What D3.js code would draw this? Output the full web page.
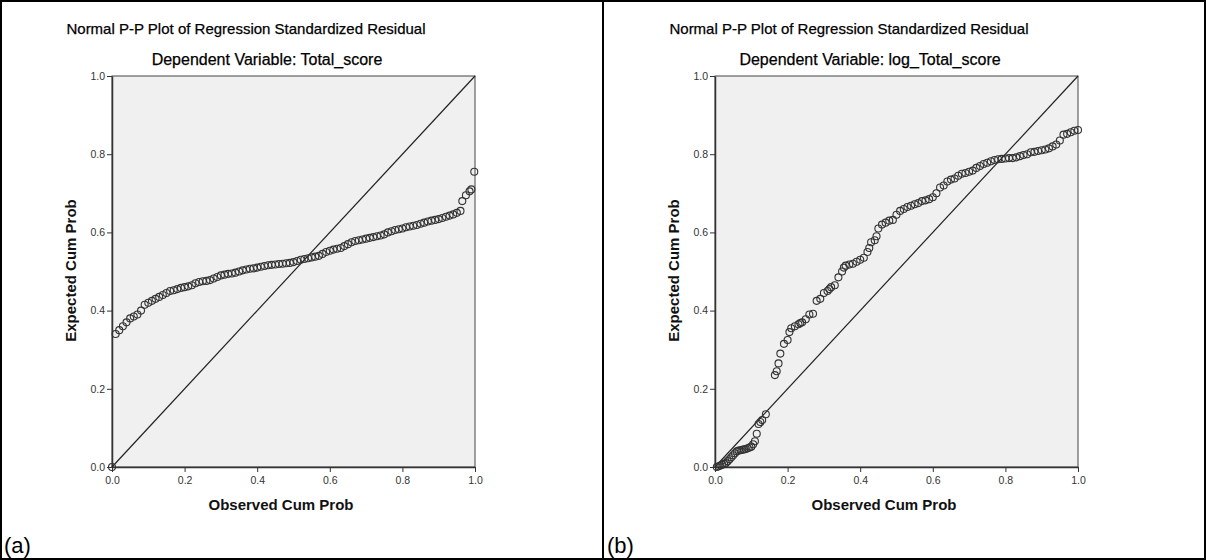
<!DOCTYPE html>
<html><head><meta charset="utf-8">
<script src="https://cdn.jsdelivr.net/npm/d3@7"></script>
<style>body{margin:0;background:#fff}svg{display:block}</style>
</head><body>
<svg id="c" width="1206" height="560"></svg>
<script>
const titleMain = "Normal P-P Plot of Regression Standardized Residual";
const subtitles = ["Dependent Variable: Total_score", "Dependent Variable: log_Total_score"];
const panelLabels = ["(a)", "(b)"];
const xTitle = "Observed Cum Prob";
const yTitle = "Expected Cum Prob";
const tickValues = [0.0, 0.2, 0.4, 0.6, 0.8, 1.0];

const obsA = [0.0,0.01,0.02,0.03,0.04,0.05,0.06,0.07,0.08,0.09,0.10,0.11,0.12,0.13,0.14,0.15,0.16,0.17,0.18,0.19,0.20,0.21,0.22,0.23,0.24,0.25,0.26,0.27,0.28,0.29,0.30,0.31,0.32,0.33,0.34,0.35,0.36,0.37,0.38,0.39,0.40,0.41,0.42,0.43,0.44,0.45,0.46,0.47,0.48,0.49,0.50,0.51,0.52,0.53,0.54,0.55,0.56,0.57,0.58,0.59,0.60,0.61,0.62,0.63,0.64,0.65,0.66,0.67,0.68,0.69,0.70,0.71,0.72,0.73,0.74,0.75,0.76,0.77,0.78,0.79,0.80,0.81,0.82,0.83,0.84,0.85,0.86,0.87,0.88,0.89,0.90,0.91,0.92,0.93,0.94,0.95,0.96,0.965,0.975,0.985,0.99,0.998];
const expA = [0.0,0.34,0.35,0.36,0.37,0.38,0.385,0.39,0.40,0.415,0.42,0.425,0.43,0.435,0.44,0.445,0.45,0.452,0.455,0.458,0.46,0.462,0.465,0.47,0.473,0.475,0.476,0.478,0.482,0.486,0.49,0.492,0.494,0.495,0.497,0.50,0.503,0.505,0.507,0.508,0.51,0.512,0.514,0.516,0.517,0.518,0.519,0.52,0.521,0.522,0.524,0.527,0.53,0.532,0.534,0.536,0.538,0.54,0.545,0.55,0.553,0.556,0.558,0.56,0.565,0.57,0.575,0.578,0.58,0.582,0.584,0.586,0.588,0.59,0.592,0.595,0.60,0.603,0.606,0.608,0.61,0.613,0.615,0.617,0.619,0.622,0.625,0.628,0.63,0.632,0.634,0.637,0.64,0.643,0.646,0.65,0.655,0.68,0.695,0.705,0.71,0.755];

const obsB = [0.005,0.01,0.015,0.02,0.025,0.03,0.035,0.04,0.045,0.05,0.055,0.06,0.065,0.07,0.075,0.08,0.085,0.09,0.095,0.10,0.105,0.11,0.115,0.12,0.125,0.13,0.14,0.165,0.17,0.175,0.18,0.19,0.20,0.205,0.21,0.22,0.23,0.235,0.24,0.25,0.26,0.27,0.28,0.29,0.30,0.31,0.315,0.32,0.33,0.34,0.35,0.355,0.36,0.37,0.38,0.39,0.40,0.41,0.42,0.425,0.43,0.44,0.445,0.45,0.46,0.47,0.48,0.49,0.50,0.51,0.52,0.53,0.54,0.55,0.56,0.57,0.58,0.59,0.60,0.61,0.62,0.63,0.64,0.65,0.66,0.67,0.68,0.69,0.70,0.71,0.72,0.73,0.74,0.75,0.76,0.77,0.78,0.79,0.80,0.81,0.82,0.83,0.84,0.85,0.86,0.87,0.88,0.89,0.90,0.91,0.92,0.93,0.94,0.95,0.96,0.97,0.98,0.99,1.0];
const expB = [0.0,0.002,0.004,0.006,0.008,0.01,0.015,0.02,0.025,0.03,0.035,0.04,0.042,0.043,0.044,0.045,0.046,0.048,0.05,0.052,0.058,0.066,0.085,0.11,0.115,0.12,0.135,0.235,0.245,0.265,0.29,0.315,0.325,0.345,0.355,0.36,0.365,0.368,0.37,0.378,0.39,0.392,0.425,0.43,0.445,0.45,0.455,0.46,0.465,0.485,0.50,0.51,0.515,0.518,0.52,0.525,0.53,0.535,0.55,0.56,0.575,0.58,0.59,0.61,0.62,0.625,0.63,0.632,0.645,0.655,0.66,0.665,0.668,0.672,0.675,0.68,0.682,0.685,0.69,0.70,0.715,0.72,0.73,0.735,0.738,0.745,0.75,0.752,0.755,0.758,0.765,0.77,0.775,0.778,0.782,0.785,0.787,0.788,0.789,0.79,0.79,0.792,0.795,0.798,0.80,0.805,0.806,0.808,0.81,0.812,0.815,0.82,0.825,0.835,0.85,0.852,0.856,0.86,0.862];

const panels = [
  {ox: 0, obs: obsA, exp: expA, sub: subtitles[0], lab: panelLabels[0]},
  {ox: 603, obs: obsB, exp: expB, sub: subtitles[1], lab: panelLabels[1]}
];

const svg = d3.select("#c");
const font = "'Liberation Sans', Arial, sans-serif";
const L = 112, T = 76, W = 363, H = 391;

svg.append("rect").attr("x",1).attr("y",1).attr("width",1204).attr("height",558)
  .attr("fill","none").attr("stroke","#000").attr("stroke-width",2);
svg.append("line").attr("x1",603).attr("x2",603).attr("y1",0).attr("y2",560)
  .attr("stroke","#000").attr("stroke-width",2);

panels.forEach(p => {
  const g = svg.append("g").attr("transform", `translate(${p.ox},0)`);
  const x = d3.scaleLinear().domain([0,1]).range([L, L+W]);
  const y = d3.scaleLinear().domain([0,1]).range([T+H, T]);

  g.append("text").attr("x", 246).attr("y", 34).attr("text-anchor","middle")
    .attr("font-family", font).attr("font-size", 15).attr("fill","#000")
    .attr("stroke","#000").attr("stroke-width",0.25).text(titleMain);
  g.append("text").attr("x", 267).attr("y", 65).attr("text-anchor","middle")
    .attr("font-family", font).attr("font-size", 16).attr("fill","#000")
    .attr("stroke","#000").attr("stroke-width",0.25).text(p.sub);

  g.append("rect").attr("x", L).attr("y", T).attr("width", W).attr("height", H)
    .attr("fill", "#f0f0f0").attr("stroke", "#444").attr("stroke-width", 1);

  const xa = g.append("g").attr("transform", `translate(0,${T+H})`)
    .call(d3.axisBottom(x).tickValues(tickValues).tickFormat(d3.format(".1f")).tickSize(5).tickSizeOuter(0));
  const ya = g.append("g").attr("transform", `translate(${L},0)`)
    .call(d3.axisLeft(y).tickValues(tickValues).tickFormat(d3.format(".1f")).tickSize(5).tickSizeOuter(0));
  [xa, ya].forEach(a => {
    a.select(".domain").attr("stroke", "#333").attr("stroke-width", 1.5);
    a.selectAll(".tick line").attr("stroke", "#333");
    a.selectAll(".tick text").attr("font-family", font).attr("font-size", 10.5).attr("fill", "#333");
  });
  xa.selectAll(".tick text").attr("dy", "0.9em");
  ya.selectAll(".tick text").attr("dx", "0.1em");

  g.append("line").attr("x1", x(0)).attr("y1", y(0)).attr("x2", x(1)).attr("y2", y(1))
    .attr("stroke", "#222").attr("stroke-width", 1.2);

  g.selectAll("circle.pt").data(p.obs.map((v,i)=>[v,p.exp[i]])).enter().append("circle")
    .attr("class","pt").attr("cx", d=>x(d[0])).attr("cy", d=>y(d[1])).attr("r", 3.5)
    .attr("fill","none").attr("stroke","#333").attr("stroke-width",1.1);

  g.append("text").attr("x", 281).attr("y", T+H+43).attr("text-anchor","middle")
    .attr("font-family", font).attr("font-size", 15).attr("font-weight","bold").attr("fill","#111").text(xTitle);
  g.append("text").attr("transform", `translate(76,${T+H/2 - 1}) rotate(-90)`).attr("text-anchor","middle")
    .attr("font-family", font).attr("font-size", 15).attr("font-weight","bold").attr("fill","#111").text(yTitle);

  g.append("text").attr("x", 4).attr("y", 553).attr("font-family", font).attr("font-size", 22).text(p.lab);
});
</script>
</body></html>
